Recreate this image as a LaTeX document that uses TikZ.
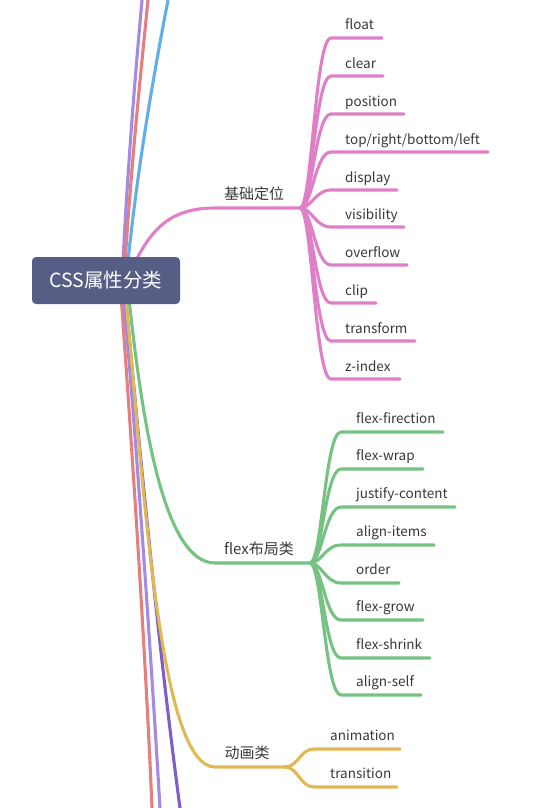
\documentclass[tikz,border=0pt]{standalone}
\usepackage{fontspec}
\setmainfont{Noto Sans CJK SC}
\usetikzlibrary{positioning}
\usetikzlibrary{backgrounds}
\usetikzlibrary{calc}
\tikzset{branch/.style = {line width=3.1pt, line cap=round},
         leaf/.style = {inner sep=0pt, anchor=base west, text=mtext,
                        font=\fontsize{13.5}{16}\selectfont},
         topic/.style = {leaf, anchor=base, font=\fontsize{15}{18}\selectfont},
         rootbox/.style = {fill=mroot, rounded corners=4pt, minimum width=148pt,
                           minimum height=47pt, text=white,
                           font=\fontsize{19.5}{23}\selectfont}}
\definecolor{mroot}{HTML}{575E86}
\definecolor{mpink}{HTML}{DE7FC8}
\definecolor{mgreen}{HTML}{75C283}
\definecolor{myellow}{HTML}{E2B855}
\definecolor{mred}{HTML}{E57F7F}
\definecolor{mlilac}{HTML}{A58AE3}
\definecolor{mviolet}{HTML}{7C5EC6}
\definecolor{mblue}{HTML}{62AEE8}
\definecolor{mtext}{HTML}{383838}

\begin{document}
\begin{tikzpicture}[x=1pt, y=-1pt]
    \useasboundingbox (0, 0) rectangle (538, 808);

    \node [rootbox] (root) at (106, 280.5) {CSS属性分类};

    \coordinate (basefan) at (300, 208);
    \coordinate (flexfan) at (310, 563);
    \coordinate (animfan) at (285, 767);

    \node [topic] (base) at (254, 199) {基础定位};
    \node [topic] (flex) at (259, 554) {flex布局类};
    \node [topic] (anim) at (247, 758.5) {动画类};

    \begin{scope}[on background layer]
      % branches leaving the page
      \draw [branch, mlilac] ($(root.center)+(16, 0)$) .. controls (127, 180) and (133, 100) .. (142, 0);
      \draw [branch, mred] ($(root.center)+(18, 0)$) .. controls (130, 180) and (138, 100) .. (148, 0);
      \draw [branch, mblue] ($(root.center)+(20, 0)$) .. controls (134, 200) and (145, 120) .. (168, 0);
      \draw [branch, mred] ($(root.center)+(14, 0)$) .. controls (130, 420) and (145, 640) .. (152, 808);
      \draw [branch, mlilac] ($(root.center)+(16, 0)$) .. controls (135, 420) and (150, 640) .. (160, 808);
      \draw [branch, mviolet] ($(root.center)+(18, 0)$) .. controls (135, 400) and (155, 620) .. (180, 808);

      \draw [branch, mpink] ($(root.center)+(18, 5)$) .. controls (145, 240) and (160, 208) .. (215, 208) -- (basefan);
      \draw [branch, mgreen] ($(root.center)+(22, 10)$) .. controls (140, 400) and (160, 563) .. (215, 563) -- (flexfan);
      \draw [branch, myellow] ($(root.center)+(19, 10)$) .. controls (145, 500) and (160, 767) .. (215, 767) -- (animfan);
    \end{scope}

    \foreach \y/\len/\txt [count=\i] in {38/382/float, 76/383/clear, 114/404/position,
                                         152/488/{top/right/bottom/left}, 190/397/display,
                                         227/404/visibility, 265/407/overflow, 303/376/clip,
                                         341/415/transform, 379/400/z-index} {
      \node [leaf] (base\i) at (345, \y-8) {\txt};
      \draw [branch, mpink] (basefan) .. controls (312, 208) and (315, \y) .. (331, \y) -- (\len, \y);
    }

    \foreach \y/\len/\txt [count=\i] in {432/443/flex-firection, 469/423/flex-wrap,
                                         507/455/justify-content, 545/434/align-items,
                                         583/399/order, 620/423/flex-grow,
                                         658/430/flex-shrink, 695/421/align-self} {
      \node [leaf] (flex\i) at (356, \y-8.5) {\txt};
      \draw [branch, mgreen] (flexfan) .. controls (322, 563) and (325, \y) .. (341, \y) -- (\len, \y);
    }

    \foreach \y/\len/\txt [count=\i] in {749/400/animation, 787/397/transition} {
      \node [leaf] (anim\i) at (330, \y-9) {\txt};
      \draw [branch, myellow] (animfan) .. controls (298, 767) and (300, \y) .. (314, \y) -- (\len, \y);
    }
\end{tikzpicture}
\end{document}
